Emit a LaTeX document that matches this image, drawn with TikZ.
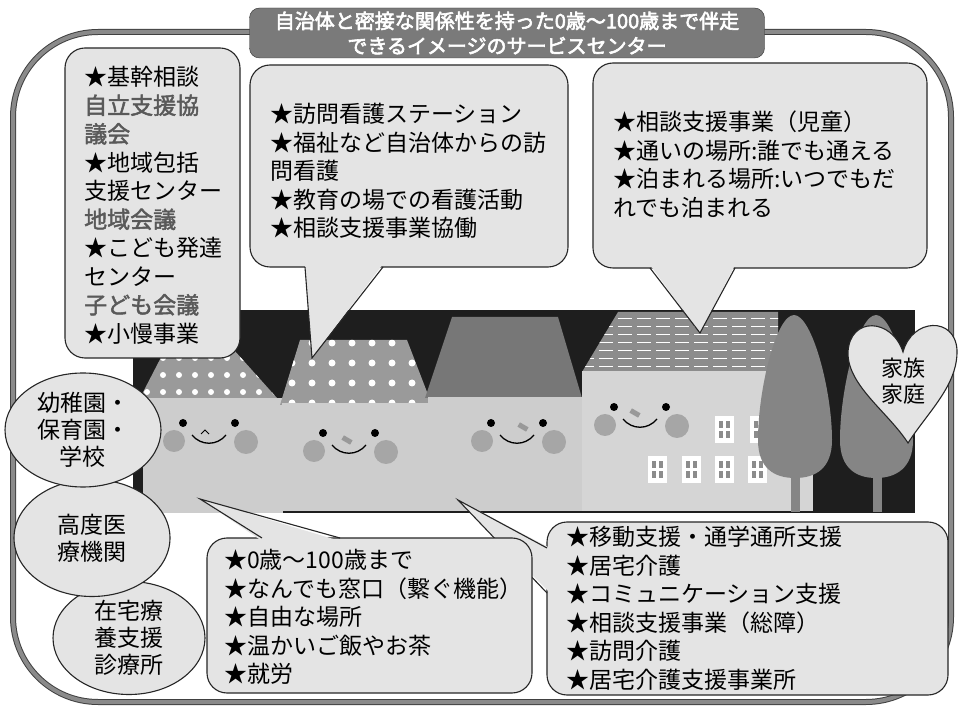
\documentclass[tikz,border=0pt]{standalone}
\usepackage{fontspec}
\setmainfont{Noto Sans CJK JP}
\newfontfamily\heavyjp[FakeBold=2]{Noto Sans CJK JP}
\newfontfamily\titlejp[FakeBold=3]{Noto Sans CJK JP}
\usetikzlibrary{shapes.geometric}

\definecolor{paper}{HTML}{E4E4E4}
\definecolor{night}{HTML}{1E1E1E}
\definecolor{wall}{HTML}{CDCDCD}
\definecolor{wallb}{HTML}{D5D5D5}
\definecolor{dotroof}{HTML}{9A9A9A}
\definecolor{darkroof}{HTML}{777777}
\definecolor{striperoof}{HTML}{8C8C8C}
\definecolor{leaf}{HTML}{858585}
\definecolor{blush}{HTML}{A6A6A6}
\definecolor{framegray}{HTML}{8A8A8A}
\definecolor{titlegray}{HTML}{7A7A7A}

\newcommand\grayword[1]{{\heavyjp\color{black!65}#1}}

\begin{document}
\begin{tikzpicture}[x=1pt,y=-1pt,
  bubble/.style={draw=black!85,fill=paper,line width=1.1pt,rounded corners=20pt},
  tail/.style={draw=black!85,line width=1.1pt},
  oval/.style={ellipse,draw=black!85,fill=paper,line width=1.1pt,inner sep=0pt,
    align=center,font=\fontsize{23}{27}\selectfont},
  bubbletext/.style={anchor=north west,inner sep=0pt,align=left,
    font=\fontsize{23}{28.5}\selectfont}]

\useasboundingbox (0,0) rectangle (959,708);

% outer frame
\draw[fill=white,rounded corners=85pt,draw=black!75,double=framegray,
  double distance=4pt,line width=1pt] (13,32) rectangle (951,702);

% night sky behind the houses
\fill[night] (133,310) rectangle (915,513);

% house 1, dotted roof
\fill[dotroof] (140,398) -- (170,340) -- (225,340) -- (277,398) -- cycle;
\begin{scope}
  \clip (140,398) -- (170,340) -- (225,340) -- (277,398) -- cycle;
  \foreach \x in {131,147,...,291}
    \foreach \y in {341,358,...,392}
      \fill[white] (\x,\y) circle (3);
\end{scope}
\fill[wall] (143,398) rectangle (283,513);

% house 2, dotted roof
\fill[dotroof] (280,405) -- (300,340) -- (407,340) -- (432,405) -- cycle;
\begin{scope}
  \clip (280,405) -- (300,340) -- (407,340) -- (432,405) -- cycle;
  \foreach \x in {292,312,...,432}
    \foreach \y in {343,363,...,403}
      \fill[white] (\x,\y) circle (3.5);
\end{scope}
\fill[wall] (282,403) rectangle (428,511);

% house 3
\fill[darkroof] (425,398) -- (452,317) -- (558,317) -- (582,398) -- cycle;
\fill[wall] (428,397) rectangle (582,511);

% house 4, striped roof
\fill[striperoof] (582,372) -- (618,312) -- (778,312) -- (778,372) -- cycle;
\begin{scope}
  \clip (582,372) -- (618,312) -- (778,312) -- (778,372) -- cycle;
  \foreach \y in {318,326,...,366}
    \draw[white,line width=0.7pt,dash pattern=on 14pt off 5pt] (580,\y) -- (780,\y);
\end{scope}
\fill[wallb] (582,371) rectangle (813,511);

% windows
\foreach \x/\y in {715/416,750/416,648/456,682/456,715/456,748/456}{
  \fill[white] (\x,\y) rectangle ++(19,27);
  \foreach \dx in {4,11}
    \foreach \dy in {5,15}
      \fill[black!45] (\x+\dx,\y+\dy) rectangle ++(4,7);
}

% trees
\fill[leaf] (876,315) .. controls (858,315) and (840,390) .. (840,440)
  .. controls (840,468) and (856,478) .. (876,478)
  .. controls (896,478) and (913,468) .. (913,440)
  .. controls (913,390) and (894,315) .. (876,315) -- cycle;
\fill[leaf] (873,470) rectangle (882,512);
\fill[leaf] (794,315) .. controls (776,315) and (758,390) .. (758,440)
  .. controls (758,468) and (774,478) .. (795,478)
  .. controls (816,478) and (832,468) .. (832,440)
  .. controls (832,390) and (812,315) .. (794,315) -- cycle;
\fill[leaf] (791,470) rectangle (800,512);

% faces
\foreach \cx/\ey in {209/423,349/433,517/423,640/407}{
  \fill[blush] (\cx-35,\ey+18) circle (11);
  \fill[blush] (\cx+37,\ey+19) circle (12);
  \fill (\cx-26,\ey) circle (4);
  \fill (\cx+26,\ey) circle (4);
  \draw[line width=1.3pt] (\cx-17,\ey+12) .. controls (\cx-8,\ey+23) and (\cx+8,\ey+23) .. (\cx+17,\ey+12);
}
\draw[line width=0.9pt] (201,434) -- (205,430) -- (209,434);
\foreach \nx/\ny in {347/440,523/427,635/413}
  \fill[black!40,rotate around={-30:(\nx,\ny)}] (\nx-5,\ny-2.5) rectangle (\nx+5,\ny+2.5);

% bubble: moving support
\draw[bubble] (547,522) rectangle (948,695);
\fill[paper] (550,548) -- (458,500) -- (550,593) -- cycle;
\draw[tail] (547,548) -- (458,500) -- (547,593);
\node[bubbletext] (movetext) at (566,526)
  {★移動支援・通学通所支援\\★居宅介護\\★コミュニケーション支援\\★相談支援事業（総障）\\★訪問介護\\★居宅介護支援事業所};

% bubble: open place
\draw[bubble] (207,538) rectangle (532,693);
\fill[paper] (262,541) -- (200,499) -- (340,541) -- cycle;
\draw[tail] (262,538) -- (200,499) -- (340,538);
\node[bubbletext] (freetext) at (224,549)
  {★0歳～100歳まで\\★なんでも窓口（繋ぐ機能）\\★自由な場所\\★温かいご飯やお茶\\★就労};

% bubble: visiting nurse
\draw[bubble] (250,65) rectangle (568,267);
\fill[paper] (305,264) -- (312,358) -- (383,264) -- cycle;
\draw[tail] (305,267) -- (312,358) -- (383,267);
\node[bubbletext] (nursetext) at (270,103)
  {★訪問看護ステーション\\★福祉など自治体からの訪\\問看護\\★教育の場での看護活動\\★相談支援事業協働};

% bubble: children
\draw[bubble] (593,63) rectangle (927,268);
\fill[paper] (650,265) -- (700,333) -- (735,265) -- cycle;
\draw[tail] (650,268) -- (700,333) -- (735,268);
\node[bubbletext] (childtext) at (613,111)
  {★相談支援事業（児童）\\★通いの場所:誰でも通える\\★泊まれる場所:いつでもだ\\れでも泊まれる};

% ovals on the left
\node[oval,minimum width=152pt,minimum height=113pt] (homecare) at (129,638) {在宅療\\養支援\\診療所};
\node[oval,minimum width=156pt,minimum height=117pt] (hospital) at (92,538) {高度医\\療機関};
\node[oval,minimum width=156pt,minimum height=114pt] (school) at (83,430) {幼稚園・\\保育園・\\学校};

% heart
\draw[fill=paper,draw=black!85,line width=1.1pt] (903,352)
  .. controls (892,318) and (850,316) .. (848,352)
  .. controls (847,385) and (888,412) .. (908,443)
  .. controls (928,412) and (958,385) .. (957,350)
  .. controls (955,316) and (912,318) .. (903,352) -- cycle;
\node[font=\fontsize{22}{26}\selectfont,align=center,inner sep=0pt] (family) at (903,381) {家族\\家庭};

% left list
\draw[bubble] (65,48) rectangle (240,358);
\node[bubbletext] (basetext) at (84,66)
  {★基幹相談\\\grayword{自立支援協}\\\grayword{議会}\\★地域包括\\支援センター\\\grayword{地域会議}\\★こども発達\\センター\\\grayword{子ども会議}\\★小慢事業};

% title
\node[draw=black!80,fill=titlegray,rounded corners=10pt,minimum width=515pt,
  minimum height=50pt,text=white,align=center,inner sep=0pt,
  font=\titlejp\fontsize{20}{25}\selectfont] (title) at (507,33)
  {自治体と密接な関係性を持った0歳～100歳まで伴走\\できるイメージのサービスセンター};

\end{tikzpicture}
\end{document}
